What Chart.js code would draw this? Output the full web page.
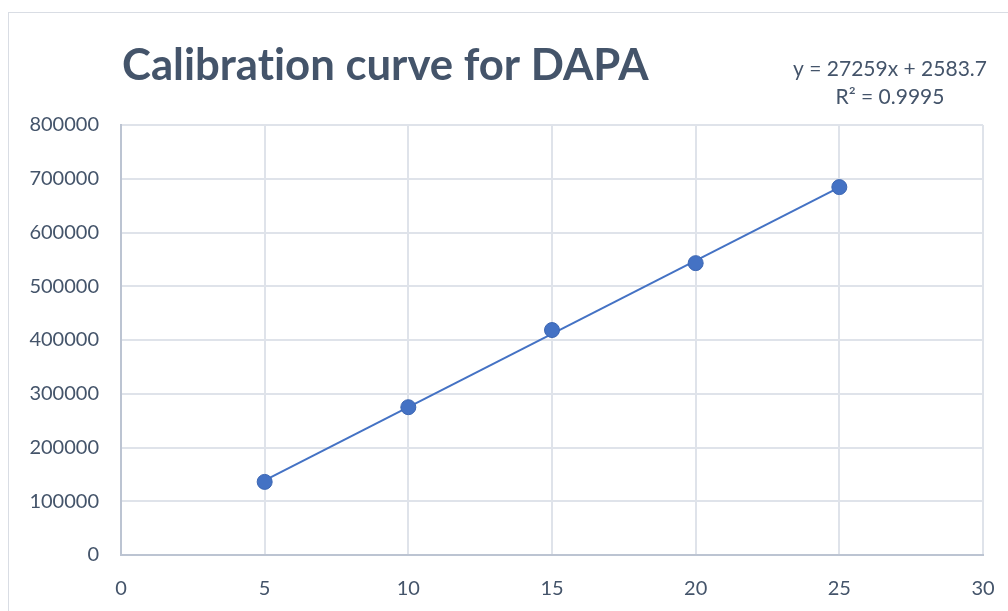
<!DOCTYPE html>
<html>
<head>
<meta charset="utf-8">
<script src="https://cdn.jsdelivr.net/npm/chart.js@4.4.1/dist/chart.umd.min.js"></script>
<style>
  html, body { margin: 0; padding: 0; background: #fff; }
  #wrap { width: 1008px; height: 611px; position: relative; }
</style>
</head>
<body>
<div id="wrap"><canvas id="myChart" width="1008" height="611"></canvas></div>
<script>
// Concentration (x) and peak area (y).
const concentrations = [5, 10, 15, 20, 25];
const peakAreas = [136000, 275000, 418500, 543000, 684500];

// Trendline ends, from y = 27259x + 2583.7
const trendX = [5, 25];
const trendY = [138879, 684059];

const titleText = 'Calibration curve for DAPA';
const equationLines = ['y = 27259x + 2583.7', 'R² = 0.9995'];

const textColor = '#44546A';
const gridColor = '#dfe3ea';
const axisColor = '#bcc4d2';
const seriesColor = '#4472C4';

// Draws the frame, the title and the trendline label.
const decorPlugin = {
    id: 'decor',
    beforeDraw(chart) {
        const ctx = chart.ctx;
        ctx.save();
        ctx.fillStyle = '#fff';
        ctx.fillRect(0, 0, chart.width, chart.height);
        ctx.strokeStyle = '#d9dde4';
        ctx.lineWidth = 1;
        ctx.strokeRect(8.5, 12.5, 1010, 610);
        ctx.restore();
    },
    afterDraw(chart) {
        const ctx = chart.ctx;
        ctx.save();
        ctx.textRendering = 'optimizeSpeed'; // no "ti" ligature
        ctx.fillStyle = textColor;
        ctx.textBaseline = 'alphabetic';
        ctx.textAlign = 'left';
        ctx.font = 'bold 43.7px Lato';
        ctx.fillText(titleText, 122, 80);

        ctx.textAlign = 'center';
        ctx.font = '21px Lato';
        ctx.fillText(equationLines[0], 890, 76);
        ctx.fillText(equationLines[1], 890, 104);
        ctx.restore();
    }
};

const tickFont = { family: 'Lato', size: 20 };

const ctx = document.getElementById('myChart').getContext('2d');
const chart = new Chart(ctx, {
    type: 'scatter',
    data: {
        datasets: [{
            label: 'Trendline',
            data: trendX.map((x, i) => ({ x: x, y: trendY[i] })),
            showLine: true,
            borderColor: seriesColor,
            borderWidth: 2,
            pointRadius: 0,
            order: 2
        }, {
            label: 'DAPA',
            data: concentrations.map((x, i) => ({ x: x, y: peakAreas[i] })),
            backgroundColor: seriesColor,
            borderColor: '#3d67b3',
            borderWidth: 1,
            pointRadius: 7.5,
            order: 1
        }]
    },
    options: {
        responsive: false,
        animation: false,
        layout: { padding: { top: 125, left: 0, right: 25, bottom: 0 } },
        plugins: {
            legend: { display: false },
            tooltip: { enabled: false }
        },
        scales: {
            x: {
                type: 'linear',
                min: 0,
                max: 30,
                ticks: { stepSize: 5, color: textColor, font: tickFont, padding: 22, callback: v => String(v) },
                grid: { color: gridColor, lineWidth: 2, drawTicks: false },
                border: { color: axisColor, width: 2 },
                afterFit(scale) {
                    scale.height = 56;
                    scale.paddingLeft = 0;
                    scale.paddingRight = 0;
                }
            },
            y: {
                min: 0,
                max: 800000,
                ticks: { stepSize: 100000, color: textColor, font: tickFont, padding: 22, callback: v => String(v) },
                grid: { color: gridColor, lineWidth: 2, drawTicks: false },
                border: { color: axisColor, width: 2 },
                afterFit(scale) {
                    scale.width = 121;
                    scale.paddingTop = 0;
                    scale.paddingBottom = 0;
                }
            }
        }
    },
    plugins: [decorPlugin]
});
</script>
</body>
</html>
